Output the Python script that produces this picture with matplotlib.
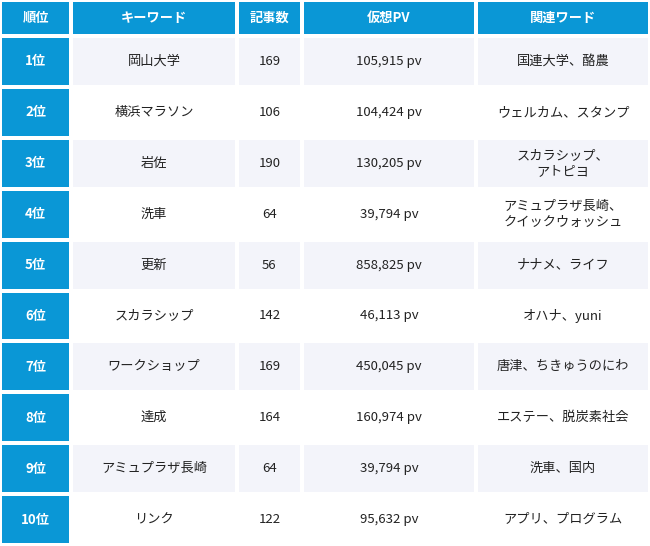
import matplotlib.pyplot as plt
from matplotlib.patches import Rectangle

plt.rcParams["font.family"] = "Noto Sans CJK JP"

headers = ["順位", "キーワード", "記事数", "仮想PV", "関連ワード"]
ranks = ["1位", "2位", "3位", "4位", "5位", "6位", "7位", "8位", "9位", "10位"]
keywords = ["岡山大学", "横浜マラソン", "岩佐", "洗車", "更新", "スカラシップ",
            "ワークショップ", "達成", "アミュプラザ長崎", "リンク"]
counts = [169, 106, 190, 64, 56, 142, 169, 164, 64, 122]
pv = [105915, 104424, 130205, 39794, 858825, 46113, 450045, 160974, 39794, 95632]
related = ["国連大学、酪農", "ウェルカム、スタンプ", "スカラシップ、\nアトピヨ",
           "アミュプラザ長崎、\nクイックウォッシュ", "ナナメ、ライフ", "オハナ、yuni",
           "唐津、ちきゅうのにわ", "エステー、脱炭素社会", "洗車、国内", "アプリ、プログラム"]

blue = "#0a97d6"
stripe = "#f3f4fa"
col_edges = [0, 71, 237, 302, 476, 650]
header_h = 36
row_h = 50.9
gap = 2

fig = plt.figure(figsize=(6.5, 5.46), dpi=100)
ax = fig.add_axes([0, 0, 1, 1])
ax.set_xlim(0, 650)
ax.set_ylim(546, 0)
ax.axis("off")

def cell(c, top, h, text, bg, color, bold=False):
    x0, x1 = col_edges[c], col_edges[c + 1]
    ax.add_patch(Rectangle((x0 + gap, top + gap), x1 - x0 - 2 * gap, h - 2 * gap,
                           facecolor=bg, edgecolor="none"))
    ax.text((x0 + x1) / 2, top + h / 2, text, ha="center", va="center",
            fontsize=9.5, color=color, fontweight="bold" if bold else "normal",
            linespacing=1.3)

for c, h in enumerate(headers):
    cell(c, 0, header_h, h, blue, "white", bold=True)

for i in range(len(ranks)):
    top = header_h + i * row_h
    bg = stripe if i % 2 == 0 else "white"
    cell(0, top, row_h, ranks[i], blue, "white", bold=True)
    cell(1, top, row_h, keywords[i], bg, "#222222")
    cell(2, top, row_h, str(counts[i]), bg, "#222222")
    cell(3, top, row_h, f"{pv[i]:,} pv", bg, "#222222")
    cell(4, top, row_h, related[i], bg, "#222222")

fig.savefig("out.png", dpi=100)
